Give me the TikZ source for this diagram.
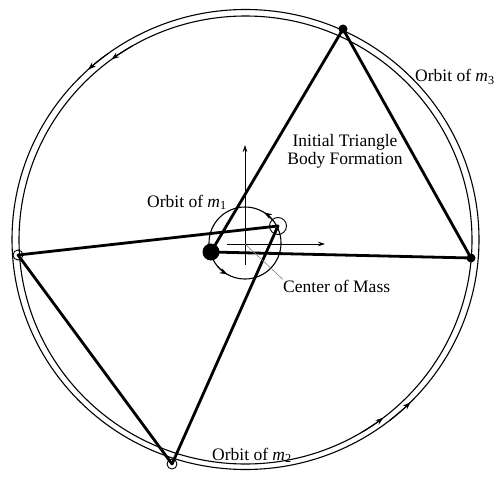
\documentclass[tikz,border=0pt]{standalone}
\usepackage{fontspec}
\setmainfont{Liberation Serif}
\usetikzlibrary{arrows.meta,positioning}

\begin{document}
\begin{tikzpicture}[x=1pt, y=-1pt,
    orbit/.style={line width=1.1pt},
    edge/.style={line width=2.8pt, line cap=round},
    axis/.style={-{Stealth[length=7pt,width=4.5pt]}, line width=0.7pt},
    flow/.style={-{Stealth[length=8pt,width=5.5pt]}, line width=1.1pt},
    fullbody/.style={circle, fill=black, inner sep=0pt, minimum size=9pt},
    ringbody/.style={circle, draw=black, line width=0.9pt, inner sep=0pt, minimum size=10pt},
    orbittext/.style={anchor=base west, inner sep=0pt, font=\fontsize{17.5}{18}\selectfont}
]
\useasboundingbox (0,0) rectangle (497,476);

% Orbits of m2 and m3
\draw[orbit] (245.5,239.5) ellipse [x radius=233.5, y radius=230];
\draw[orbit] (245.5,240) ellipse [x radius=226.5, y radius=224];
\draw[flow] (245.5,239.5) ++(234:233.5 and 230) arc[start angle=234, end angle=227.6, x radius=233.5, y radius=230];
\draw[flow] (245.5,239.5) ++(52:233.5 and 230) arc[start angle=52, end angle=45, x radius=233.5, y radius=230];
\draw[flow] (245.5,240) ++(240:226.5 and 224) arc[start angle=240, end angle=233.7, x radius=226.5, y radius=224];
\draw[flow] (245.5,240) ++(59:226.5 and 224) arc[start angle=59, end angle=52.5, x radius=226.5, y radius=224];

% Orbit of m1
\draw[orbit] (245,243) circle [radius=36];
\draw[flow] (245,243) ++(322:36) arc[start angle=322, end angle=302, radius=36];
\draw[flow] (245,243) ++(140:36) arc[start angle=140, end angle=119, radius=36];

% Center of mass axes
\coordinate (cm) at (245,244);
\coordinate (ybase) at (245,265);
\coordinate (ytip) at (245,145);
\coordinate (xbase) at (227,244);
\coordinate (xtip) at (325,244);
\draw[axis] (ybase) -- (ytip);
\draw[axis] (xbase) -- (xtip);

% Bodies
\node[fullbody, minimum size=17pt] (mone) at (211,252) {};
\node[ringbody, minimum size=17pt] (mghost) at (278,226) {};
\node[fullbody] (mtop) at (343,29) {};
\node[fullbody] (mright) at (471,258) {};
\node[ringbody] (mleft) at (18,255) {};
\node[ringbody] (mbottom) at (172,464) {};

% Initial triangle
\draw[edge] (mone.center) -- (mtop.center);
\draw[edge] (mtop.center) -- (mright.center);
\draw[edge] (mright.center) -- (mone.center);

% Second triangle
\draw[edge] (mleft.center) -- (mghost.center);
\draw[edge] (mleft.center) -- (mbottom.center);
\draw[edge] (mbottom.center) -- (mghost.center);

% Labels
\node[orbittext] (lblthree) at (415,82) {Orbit of \textit{m}\textsubscript{3}};
\node[orbittext] (lblone) at (147,207) {Orbit of \textit{m}\textsubscript{1}};
\node[orbittext] (lbltwo) at (212,460) {Orbit of \textit{m}\textsubscript{2}};
\node[orbittext] (lblcom) at (283,292) {Center of Mass};
\node[inner sep=0pt, align=center, font=\fontsize{17.5}{18}\selectfont] (lbltri) at (345,151) {Initial Triangle\\Body Formation};

\draw[gray, line width=0.6pt] (cm) -- (lblcom.north west);

\end{tikzpicture}
\end{document}
